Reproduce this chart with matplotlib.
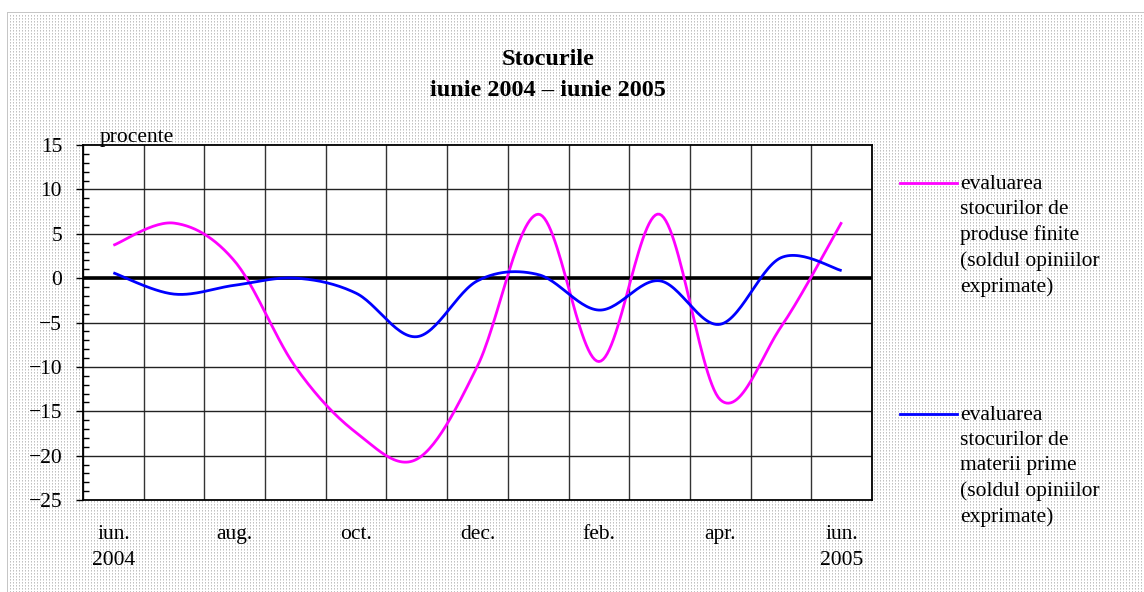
import numpy as np
import matplotlib
matplotlib.use("Agg")
import matplotlib.pyplot as plt
from matplotlib.lines import Line2D

# ---- data ----
months = ["iun.\n2004", "iul.", "aug.", "sep.", "oct.", "nov.", "dec.",
          "ian.", "feb.", "mar.", "apr.", "mai", "iun.\n2005"]
tick_labels = ["iun.\n2004", "", "aug.", "", "oct.", "", "dec.",
               "", "feb.", "", "apr.", "", "iun.\n2005"]
produse_finite = [3.7, 6.2, 1.9, -10.0, -17.4, -20.4, -9.9, 7.2, -9.4, 7.2, -13.7, -5.5, 6.3]
materii_prime = [0.6, -1.8, -0.8, 0.0, -1.7, -6.6, -0.3, 0.4, -3.6, -0.3, -5.2, 2.3, 0.85]
label_pf = "evaluarea\nstocurilor de\nproduse finite\n(soldul opiniilor\nexprimate)"
label_mp = "evaluarea\nstocurilor de\nmaterii prime\n(soldul opiniilor\nexprimate)"
title = "Stocurile\niunie 2004 – iunie 2005"

plt.rcParams['font.family'] = ['Liberation Serif', 'DejaVu Serif']

FS = 15.5
W, H = 1144, 592
fig = plt.figure(figsize=(W / 100, H / 100), dpi=100)

# dotted background pattern
bg = np.ones((H, W, 3))
x0, y0 = 7, 12
for yy in range(y0 + 3, H, 3):
    bg[yy, x0 + 3::3, :] = 0.76
    if yy + 1 < H:
        bg[yy + 1, x0 + 3::3, :] = 0.86
bg[y0, x0:, :] = 0.78
bg[y0:, x0, :] = 0.78
fig.figimage(bg, xo=0, yo=0, origin='upper', zorder=-10)


def smooth(vals, n=30):
    p = np.array(vals, dtype=float)
    x = np.arange(len(p), dtype=float)
    pts = np.column_stack([x, p])
    ext = np.vstack([pts[0], pts, pts[-1]])
    out = []
    t = np.linspace(0, 1, n)[:, None]
    for i in range(len(p) - 1):
        P0, P1, P2, P3 = ext[i], ext[i + 1], ext[i + 2], ext[i + 3]
        B1 = P1 + (P2 - P0) / 6
        B2 = P2 - (P3 - P1) / 6
        seg = ((1 - t) ** 3) * P1 + 3 * ((1 - t) ** 2) * t * B1 + 3 * (1 - t) * t ** 2 * B2 + t ** 3 * P2
        out.append(seg if i == 0 else seg[1:])
    s = np.vstack(out)
    return s[:, 0], s[:, 1]


ax = fig.add_axes([83 / W, 1 - 500 / H, (872 - 83) / W, (500 - 145) / H], zorder=2)
ax.set_facecolor('white')
n = len(months)
ax.set_xlim(-0.5, n - 0.5)
ax.set_ylim(-25, 15)

# grid
for k in range(n + 1):
    ax.axvline(k - 0.5, color='#333333', lw=1.0, zorder=1)
for v in range(-20, 15, 5):
    ax.axhline(v, color='#222222', lw=1.0, zorder=1)
ax.axhline(0, color='black', lw=2.6, zorder=2)

xs, ys = smooth(produse_finite)
ax.plot(xs, ys, color='#FF00FF', lw=2.0, zorder=3, solid_capstyle='butt')
xs, ys = smooth(materii_prime)
ax.plot(xs, ys, color='#0000FF', lw=2.0, zorder=4, solid_capstyle='butt')

for sp in ax.spines.values():
    sp.set_color('black')
    sp.set_linewidth(1.3)

ax.set_yticks(range(-25, 16, 5))
ax.set_yticklabels([str(v).replace('-', '\u2212') for v in range(-25, 16, 5)], fontsize=FS)
ax.set_yticks(range(-25, 16, 1), minor=True)
ax.tick_params(axis='y', which='major', direction='out', length=5, width=1, pad=10)
ax.tick_params(axis='y', which='minor', direction='in', length=4, width=1)
ax.set_xticks(range(n))
ax.set_xticklabels(tick_labels, fontsize=FS, linespacing=1.5)
ax.tick_params(axis='x', which='major', length=0, pad=18)

fig.text(100 / W, 1 - 142 / H, "procente", fontsize=FS, ha='left', va='baseline', zorder=3)
fig.text(548 / W, 1 - 75 / H, title, fontsize=17.5, fontweight='bold', ha='center',
         va='center', linespacing=1.6)

# legend (manual)
for y_line, col, lab in [(183, '#FF00FF', label_pf), (414, '#0000FF', label_mp)]:
    fig.add_artist(Line2D([900 / W, 957 / W], [1 - y_line / H, 1 - y_line / H],
                          color=col, lw=2.0))
    fig.text(960 / W, 1 - (y_line - 8) / H, lab, fontsize=FS, ha='left', va='top',
             linespacing=1.42)

fig.savefig("out.png", dpi=100)
